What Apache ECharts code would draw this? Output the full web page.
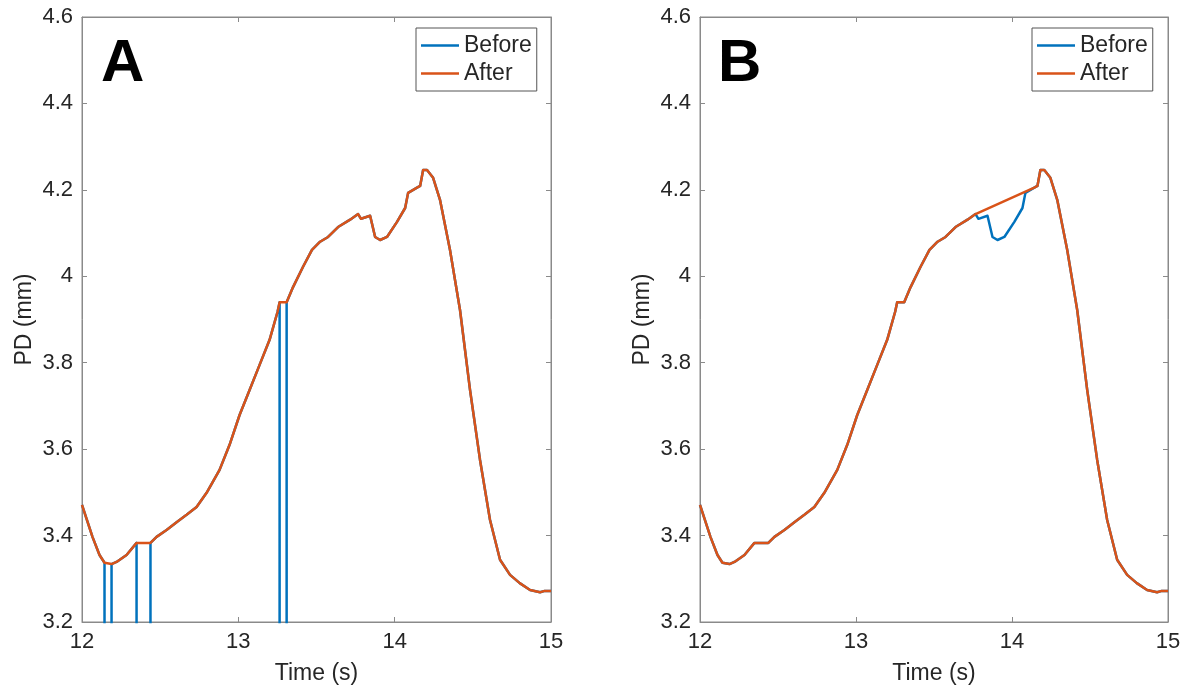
<!DOCTYPE html>
<html>
<head>
<meta charset="utf-8">
<script src="https://cdn.jsdelivr.net/npm/echarts@6/dist/echarts.min.js"></script>
<style>
html,body{margin:0;padding:0;background:#fff;}
#chart{width:1189px;height:694px;}
</style>
</head>
<body>
<div id="chart"></div>
<script>
// ---- Data ----
// Panel A: time samples (duplicated times mark the vertical drop-outs of "Before")
const timeA = [12.000,12.067,12.112,12.144,12.144,12.189,12.189,12.221,12.285,12.349,12.349,12.438,12.438,12.477,12.541,12.605,12.669,12.733,12.797,12.880,12.944,13.008,13.072,13.136,13.200,13.251,13.264,13.264,13.309,13.309,13.350,13.414,13.471,13.523,13.574,13.638,13.715,13.766,13.785,13.843,13.875,13.907,13.951,14.015,14.067,14.086,14.143,14.163,14.182,14.207,14.246,14.290,14.354,14.418,14.482,14.546,14.610,14.674,14.738,14.800,14.866,14.930,14.960,15.000];
const afterA  = [3.471,3.397,3.355,3.337,3.337,3.334,3.334,3.339,3.355,3.383,3.383,3.383,3.383,3.397,3.413,3.431,3.448,3.466,3.499,3.552,3.610,3.679,3.737,3.795,3.853,3.918,3.940,3.940,3.940,3.940,3.975,4.022,4.061,4.080,4.091,4.114,4.131,4.144,4.133,4.140,4.091,4.084,4.091,4.126,4.158,4.193,4.205,4.209,4.246,4.246,4.228,4.177,4.061,3.922,3.737,3.575,3.436,3.344,3.309,3.290,3.274,3.269,3.272,3.272];
const beforeA = [3.471,3.397,3.355,3.337,0,0,3.334,3.339,3.355,3.383,0,0,3.383,3.397,3.413,3.431,3.448,3.466,3.499,3.552,3.610,3.679,3.737,3.795,3.853,3.918,3.940,0,0,3.940,3.975,4.022,4.061,4.080,4.091,4.114,4.131,4.144,4.133,4.140,4.091,4.084,4.091,4.126,4.158,4.193,4.205,4.209,4.246,4.246,4.228,4.177,4.061,3.922,3.737,3.575,3.436,3.344,3.309,3.290,3.274,3.269,3.272,3.272];

// Panel B: "Before" contains the dip, "After" bridges it with a straight segment
const timeB   = [12.000,12.067,12.112,12.144,12.189,12.221,12.285,12.349,12.438,12.477,12.541,12.605,12.669,12.733,12.797,12.880,12.944,13.008,13.072,13.136,13.200,13.251,13.264,13.309,13.350,13.414,13.471,13.523,13.574,13.638,13.715,13.766,13.785,13.843,13.875,13.907,13.951,14.015,14.067,14.086,14.143,14.163,14.182,14.207,14.246,14.290,14.354,14.418,14.482,14.546,14.610,14.674,14.738,14.800,14.866,14.930,14.960,15.000];
const beforeB = [3.471,3.397,3.355,3.337,3.334,3.339,3.355,3.383,3.383,3.397,3.413,3.431,3.448,3.466,3.499,3.552,3.610,3.679,3.737,3.795,3.853,3.918,3.940,3.940,3.975,4.022,4.061,4.080,4.091,4.114,4.131,4.144,4.133,4.140,4.091,4.084,4.091,4.126,4.158,4.193,4.205,4.209,4.246,4.246,4.228,4.177,4.061,3.922,3.737,3.575,3.436,3.344,3.309,3.290,3.274,3.269,3.272,3.272];
const timeAfterB = [12.000,12.067,12.112,12.144,12.189,12.221,12.285,12.349,12.438,12.477,12.541,12.605,12.669,12.733,12.797,12.880,12.944,13.008,13.072,13.136,13.200,13.251,13.264,13.309,13.350,13.414,13.471,13.523,13.574,13.638,13.715,13.766,14.143,14.163,14.182,14.207,14.246,14.290,14.354,14.418,14.482,14.546,14.610,14.674,14.738,14.800,14.866,14.930,14.960,15.000];
const afterB  = [3.471,3.397,3.355,3.337,3.334,3.339,3.355,3.383,3.383,3.397,3.413,3.431,3.448,3.466,3.499,3.552,3.610,3.679,3.737,3.795,3.853,3.918,3.940,3.940,3.975,4.022,4.061,4.080,4.091,4.114,4.131,4.144,4.205,4.209,4.246,4.246,4.228,4.177,4.061,3.922,3.737,3.575,3.436,3.344,3.309,3.290,3.274,3.269,3.272,3.272];

const seriesNames = ['Before', 'After'];
const panelLabels = ['A', 'B'];
const xLabelText = 'Time (s)';
const yLabelText = 'PD (mm)';
const xMin = 12, xMax = 15, xStep = 1;
const yMin = 3.2, yMax = 4.6, yStep = 0.2;

// ---- Styling ----
const BLUE = '#0072BD', ORANGE = '#D95319';
const TXT = '#262626', AX = '#8a8a8a';
const FONT = '"Liberation Sans", Arial, Helvetica, sans-serif';

const zip = (t, v) => t.map((x, i) => [x, v[i]]);
const fmt = v => String(Math.round(v * 10) / 10);

const grids = [
  {left: 82, right: 638, top: 17, bottom: 72},
  {left: 700, right: 21, top: 17, bottom: 72}
];

function xAx(gi, top) {
  return {
    type: 'value', gridIndex: gi, min: xMin, max: xMax, interval: xStep,
    position: top ? 'top' : 'bottom',
    name: top ? '' : xLabelText, nameLocation: 'middle', nameGap: 40,
    nameTextStyle: {color: TXT, fontSize: 23, fontFamily: FONT},
    axisLine: {show: true, lineStyle: {color: AX, width: 1}},
    axisTick: {show: true, inside: true, length: 5, lineStyle: {color: AX}},
    axisLabel: {show: !top, color: TXT, fontSize: 22, fontFamily: FONT, margin: 9, formatter: fmt},
    splitLine: {show: false}
  };
}
function yAx(gi, right) {
  return {
    type: 'value', gridIndex: gi, min: yMin, max: yMax, interval: yStep,
    position: right ? 'right' : 'left',
    name: right ? '' : yLabelText, nameLocation: 'middle', nameGap: 46, nameRotate: 90,
    nameTextStyle: {color: TXT, fontSize: 23, fontFamily: FONT},
    axisLine: {show: true, lineStyle: {color: AX, width: 1}},
    axisTick: {show: true, inside: true, length: 5, lineStyle: {color: AX}},
    axisLabel: {show: !right, color: TXT, fontSize: 22, fontFamily: FONT, margin: 9, formatter: fmt},
    splitLine: {show: false}
  };
}

function lineSeries(name, color, data, xi, yi) {
  return {
    type: 'line', name, data, xAxisIndex: xi, yAxisIndex: yi,
    showSymbol: false, symbol: 'none', smooth: false, clip: true,
    color, lineStyle: {color, width: 2.5, join: 'round', cap: 'butt'}, itemStyle: {color},
    animation: false, z: name === 'After' ? 3 : 2
  };
}

function legendAt(left) {
  return {
    orient: 'vertical', left, top: 28,
    data: seriesNames.map(n => ({name: n, icon: 'rect'})),
    itemWidth: 38, itemHeight: 2.5, itemGap: 5, itemTextGap: 4,
    padding: [6, 5, 6, 5],
    borderColor: '#555', borderWidth: 1, borderRadius: 0, backgroundColor: '#fff',
    textStyle: {color: TXT, fontSize: 23, fontFamily: FONT},
    selectedMode: false
  };
}

const chart = echarts.init(document.getElementById('chart'), null, {renderer: 'canvas'});
chart.setOption({
  backgroundColor: '#fff',
  animation: false,
  grid: grids.map(g => Object.assign({show: true, borderColor: AX, borderWidth: 1, backgroundColor: '#fff'}, g)),
  xAxis: [xAx(0, false), xAx(0, true), xAx(1, false), xAx(1, true)],
  yAxis: [yAx(0, false), yAx(0, true), yAx(1, false), yAx(1, true)],
  legend: [legendAt(416), legendAt(1032)],
  graphic: panelLabels.map((t, i) => ({
    type: 'text', left: i === 0 ? 101 : 718, top: 34, z: 10,
    style: {text: t, fill: '#000', font: 'bold 60px ' + FONT}
  })),
  series: [
    lineSeries(seriesNames[0], BLUE, zip(timeA, beforeA), 0, 0),
    lineSeries(seriesNames[1], ORANGE, zip(timeA, afterA), 0, 0),
    lineSeries(seriesNames[0], BLUE, zip(timeB, beforeB), 2, 2),
    lineSeries(seriesNames[1], ORANGE, zip(timeAfterB, afterB), 2, 2)
  ]
});
</script>
</body>
</html>
